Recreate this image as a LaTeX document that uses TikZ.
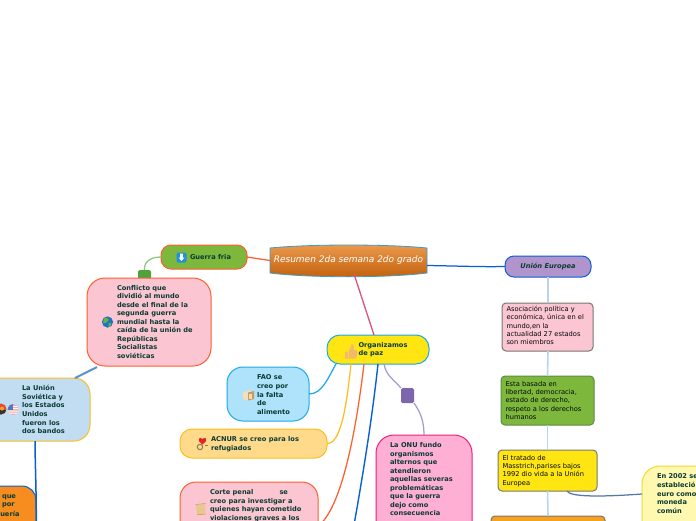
\documentclass[tikz,border=0pt]{standalone}
\usepackage{fontspec}
\setmainfont{DejaVu Sans}
\usetikzlibrary{calc}
\definecolor{ink}{HTML}{0B3B33}
\definecolor{pinkf}{HTML}{FBC5D2}
\definecolor{redb}{HTML}{FF5E2E}
\definecolor{greenf}{HTML}{7DB83D}
\definecolor{yelf}{HTML}{FFE512}
\definecolor{cyanb}{HTML}{1AA9EA}
\definecolor{blueb}{HTML}{0A5FD6}
\definecolor{amber}{HTML}{FDBE1F}
\definecolor{purp}{HTML}{7E66AE}
\definecolor{lav}{HTML}{A79CD0}
\definecolor{paleline}{HTML}{B8D4F0}
\definecolor{grayb}{HTML}{77786F}
\definecolor{orangetop}{HTML}{EB9A4E}
\definecolor{orangebot}{HTML}{C2600C}
\definecolor{skin}{HTML}{F2B96E}
\definecolor{cunion}{HTML}{C2DDF2}
\definecolor{cnar}{HTML}{F78D1E}
\definecolor{cfao}{HTML}{AEE3FB}
\definecolor{cacn}{HTML}{FFDA8B}
\definecolor{conu}{HTML}{FFAED4}
\definecolor{bonu}{HTML}{F0207C}
\definecolor{cue}{HTML}{B294CC}
\definecolor{besta}{HTML}{5F8A45}
\definecolor{cbot}{HTML}{F7A11E}
\definecolor{ceuro}{HTML}{FFF8B0}
\definecolor{beuro}{HTML}{F2DC2E}
\definecolor{tabgreen}{HTML}{4FA33A}
\definecolor{lgreen}{HTML}{8CC47A}
\definecolor{lblue}{HTML}{5B94C8}
\definecolor{lrose}{HTML}{D9547A}
\definecolor{lslate}{HTML}{5577AA}
\definecolor{icoblue}{HTML}{1E90E0}
\definecolor{globeb}{HTML}{1C74C4}
\definecolor{globeg}{HTML}{6FB03A}
\definecolor{fred}{HTML}{E8453C}
\definecolor{fdark}{HTML}{333333}
\definecolor{fgold}{HTML}{F2A81D}
\definecolor{frose}{HTML}{F7A8A8}
\definecolor{fblue}{HTML}{4A7CC0}
\definecolor{brlight}{HTML}{F5DDBB}
\definecolor{brdark}{HTML}{C99A5F}
\definecolor{heart}{HTML}{E8202A}
\definecolor{ring}{HTML}{8A7A55}
\definecolor{scrollf}{HTML}{E8C88E}
\definecolor{scrolld}{HTML}{C49A55}
\newcommand{\mmbox}[6]{% name x1 y1 x2 y2 style
  \node[boxbase,#6,minimum width={(#4-#2)*1pt},minimum height={(#5-#3)*1pt}] (#1) at ({(#2+#4)/2},{(#3+#5)/2}) {};}
\tikzset{
  x=1pt,y=-1pt,
  boxbase/.style={rectangle,inner sep=0pt,outer sep=0pt,line width=1pt,draw},
  bold/.style={anchor=north west,align=left,inner sep=0pt,outer sep=0pt,text=ink,
    font=\fontsize{6.65}{8.55}\selectfont\bfseries},
  plain/.style={anchor=north west,align=left,inner sep=0pt,outer sep=0pt,text=black!85!ink,
    font=\fontsize{6.7}{8.4}\selectfont},
  link/.style={line width=1.25pt},
  stem/.style={line width=1.6pt,paleline},
  tabbox/.style={draw=none,rounded corners=1.5pt},
  sub/.style={rounded corners=4pt,draw=grayb},
}
\begin{document}
\begin{tikzpicture}
\clip (0,0) rectangle (696,520);
\fill[white] (0,0) rectangle (696,520);
% central topic
\draw[line width=0.8pt,draw=cyanb!70!gray,top color=orangetop,bottom color=orangebot]
  (270,248) .. controls (310,244) and (387,244) .. (427,248) -- (427,273)
  .. controls (387,278) and (310,278) .. (270,273) -- cycle;
\node[inner sep=0pt,outer sep=0pt,minimum width=157pt,minimum height=27pt,text=white,
  font=\fontsize{9}{10}\selectfont\itshape] (central) at (348.5,260.5) {Resumen 2da semana 2do grado};
% boxes
\mmbox{guerra}{161}{245}{247}{269}{rounded corners=10pt,fill=greenf,draw=redb}
\mmbox{gtab}{138}{270}{151}{279}{tabbox,fill=tabgreen}
\mmbox{conf}{87}{278}{211}{366}{rounded corners=18pt,fill=pinkf,draw=redb}
\mmbox{union}{-30}{378}{90}{441}{rounded corners=16pt,fill=cunion,draw=amber}
\mmbox{naranja}{-40}{486}{36}{560}{rounded corners=14pt,fill=cnar,draw=blueb}
\mmbox{org}{327}{335}{429}{364}{rounded corners=13pt,fill=yelf,draw=cyanb}
\mmbox{fao}{227}{367}{309}{421}{rounded corners=16pt,fill=cfao,draw=cyanb}
\mmbox{acnur}{180}{429}{327}{458}{rounded corners=12pt,fill=cacn,draw=amber}
\mmbox{corte}{180}{482}{318}{570}{rounded corners=16pt,fill=pinkf,draw=redb}
\mmbox{ptab}{401}{388}{414}{403}{tabbox,fill=purp}
\mmbox{onu}{376}{435}{472}{570}{rounded corners=18pt,fill=conu,draw=bonu}
\mmbox{ue}{505}{256}{591}{277}{rounded corners=9pt,fill=cue,draw=blueb}
\mmbox{aso}{502}{303}{593}{351}{sub,fill=pinkf}
\mmbox{esta}{501}{376}{594}{425}{sub,fill=greenf,draw=besta}
\mmbox{trat}{498}{450}{597}{491}{sub,fill=yelf}
\mmbox{bot}{491}{516}{605}{560}{sub,fill=cbot}
\mmbox{euro}{642}{466}{760}{540}{rounded corners=18pt,fill=ceuro,draw=beuro}
% connectors
\draw[link,redb] (guerra.east) -- (central.west);
\draw[link,lgreen] (guerra.west) .. controls (150,257) and (144,262) .. (gtab.north);
\draw[line width=2pt,lblue] ([xshift=-52pt,yshift=-1pt]conf.south) -- ([xshift=45pt]union.north);
\draw[line width=1.5pt,blueb] ([xshift=5pt]union.south) .. controls +(0,20) and +(1,-30) .. ([yshift=-14pt]naranja.east);
\draw[link,blueb] ([yshift=-5pt]central.east) .. controls (460,266) and (480,267) .. (ue.west);
\draw[line width=1.3pt,lrose] ([xshift=5.5pt]central.south) -- ([xshift=-4pt]org.north);
\draw[link,cyanb] ([xshift=-42pt]org.south) .. controls (328,378) and (322,394) .. (fao.east);
\draw[link,amber] ([xshift=-27pt]org.south) .. controls (347,400) and (342,444) .. (acnur.east);
\draw[link,redb] ([xshift=-14pt]org.south) .. controls (355,440) and (340,510) .. (corte.east);
\coordinate (offb) at (354,525);
\draw[line width=1.4pt,blueb] (org.south) .. controls (372,420) and (362,480) .. (offb);
\draw[link,lav] ([xshift=6pt]org.south) .. controls (386,375) and (392,378) .. (ptab.north west);
\draw[link,lav] (ptab.south east) .. controls (420,412) and (424,420) .. (onu.north);
\draw[stem] (ue.south) -- ([xshift=0.5pt]aso.north);
\draw[stem] ([xshift=0.5pt]aso.south) -- (esta.north);
\draw[stem] (esta.south) -- (trat.north);
\draw[stem] (trat.south) -- (bot.north);
\draw[link,lslate] ([xshift=19.5pt]trat.south) .. controls (570,497) and (600,497) .. (642,494);
% icons
\fill[icoblue,rounded corners=1.5pt] (176.5,252.5) rectangle (186.5,262.5);
\fill[white] (180.2,253.5) rectangle (182.8,257.5) (178.5,257.5) -- (184.5,257.5) -- (181.5,261) -- cycle;
\coordinate (globe) at (107.5,322);
\fill[globeb] (globe) circle (5.6);
\fill[globeg] (104,318.5) .. controls (107,317) and (110,319) .. (108,321) .. controls (107,324) and (105,322) .. (103,323) -- cycle;
\fill[globeg] (108.5,323) .. controls (111,322) and (112,324) .. (110,327) -- (108.5,326) -- cycle;
% flags
\fill[fred] (1,409) circle (5.5);
\begin{scope}
\clip (1,409) circle (5.5);
\fill[fdark] (-5,409.5) rectangle (7,415);
\end{scope}
\fill[fgold] (2,408.5) circle (2);
\begin{scope}
\clip (13,409.5) circle (5.5);
\fill[frose] (7,404) rectangle (19,415);
\fill[white] (7,406) rectangle (19,407) (7,408.2) rectangle (19,409.2) (7,410.5) rectangle (19,411.5) (7,412.7) rectangle (19,413.7);
\fill[fblue] (7,404) rectangle (13,409.5);
\end{scope}
% thumb
\fill[skin] (345,351.5) rectangle (347.8,358.5) (348.6,358.5) -- (348.6,351.5) .. controls (351,349) and (351,346) .. (351.5,344) .. controls (354,344) and (354.5,347.5) .. (353.5,350) -- (356.5,350) .. controls (358,351) and (357.5,356) .. (355.5,358.5) -- cycle;
% bread
\fill[brlight] (243,392.5) -- (249,390.5) -- (254,392) -- (254,399) -- (248,400.5) -- (243,399) -- cycle;
\fill[brdark] (248,392.5) -- (254,391) -- (254,399) -- (248,400.5) -- cycle;
\fill[brlight] (248.5,393.5) rectangle (252,399);
% heart and rings
\fill[heart] (199,441) .. controls (198,437) and (202,437) .. (202.5,439) .. controls (203,437) and (207,437) .. (206,441) -- (202.5,444.5) -- cycle;
\draw[line width=1pt,ring] (200,447) circle (2.7);
\draw[line width=0.8pt,ring] (204.5,445.5) -- (208,445.5);
% scroll
\fill[scrollf] (196,505) -- (205,504) -- (205.5,514) -- (197,515) -- cycle;
\draw[line width=0.5pt,scrolld] (195.5,504.5) -- (205.5,503.5) (197,514.8) -- (206,514);
% texts
\node[bold] (tG) at (190,254) {Guerra fria};
\node[bold] (tC) at (117,285) {Conflicto que\\dividió al mundo\\desde el final de la\\segunda guerra\\mundial hasta la\\caída de la unión de\\Repúblicas\\Socialistas\\soviéticas};
\node[bold] (tU) at (22,385.5) {La Unión\\Soviética y\\los Estados\\Unidos\\fueron los\\dos bandos};
\node[bold] (tN1) at (2,494.5) {que\\por};
\node[bold] (tN2) at (-4.5,511.5) {quería};
\node[bold] (tO) at (358.5,342) {Organizamos\\de paz};
\node[bold] (tF) at (257,375) {FAO se\\creo por\\la falta\\de\\alimento};
\node[bold] (tA) at (211,436.5) {ACNUR se creo para los\\refugiados};
\node[bold] (tP) at (210,489.5) {Corte penal\hspace{26pt}se\\creo para investigar a\\quienes hayan cometido\\violaciones graves a los};
\node[bold] (tONU) at (390,442.5) {La ONU fundo\\organismos\\alternos que\\atendieron\\aquellas severas\\problemáticas\\que la guerra\\dejo como\\consecuencia};
\node[inner sep=0pt,outer sep=0pt,text=ink,font=\fontsize{6.7}{8.5}\selectfont\bfseries\itshape] (tUE) at (548,266.5) {Unión Europea};
\node[plain] (tAs) at (506.5,306) {Asociación política y\\económica, única en el\\mundo,en la\\actualidad 27 estados\\son miembros};
\node[plain] (tEs) at (505.5,381) {Esta basada en\\libertad, democracia,\\estado de derecho,\\respeto a los derechos\\humanos};
\node[plain] (tTr) at (502.5,455) {El tratado de\\Masstrich,parises bajos\\1992 dio vida a la Unión\\Europea};
\node[bold] (tEu) at (657,474) {En 2002 se\\estableció el\\euro como\\moneda\\común};
\end{tikzpicture}
\end{document}
